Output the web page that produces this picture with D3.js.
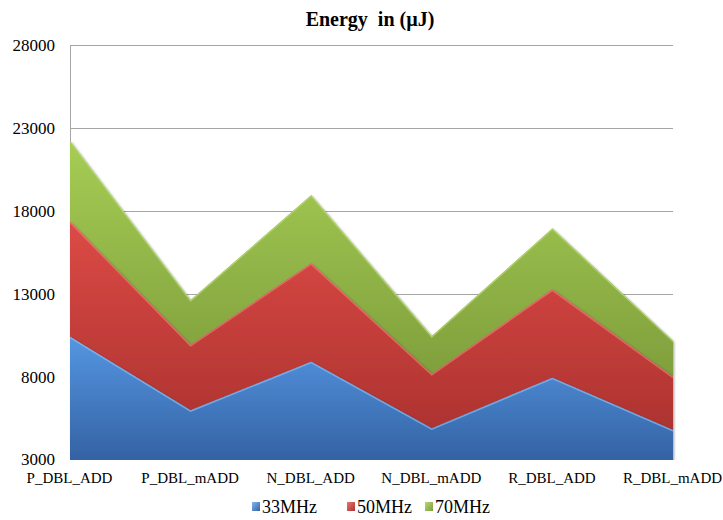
<!DOCTYPE html>
<html>
<head>
<meta charset="utf-8">
<script src="https://cdn.jsdelivr.net/npm/d3@7"></script>
<style>
  html, body { margin: 0; padding: 0; background: #fff; }
  svg { display: block; }
  svg text { font-family: "Liberation Serif", "Times New Roman", serif; }
</style>
</head>
<body>
<svg id="chart" width="723" height="520"></svg>
<script>
// Categories and per-frequency energy values (stacked)
const categories = ["P_DBL_ADD", "P_DBL_mADD", "N_DBL_ADD", "N_DBL_mADD", "R_DBL_ADD", "R_DBL_mADD"];
const seriesNames = ["33MHz", "50MHz", "70MHz"];
const mhz33 = [10430, 6000, 8920, 4910, 7960, 4810];
const mhz50 = [6930, 3930, 5930, 3270, 5320, 3210];
const mhz70 = [4880, 2710, 4110, 2290, 3680, 2170];
const yTicks = [3000, 8000, 13000, 18000, 23000, 28000];

const FONT = "Liberation Serif, Times New Roman, serif";
const svg = d3.select("#chart");
const margin = { left: 70, right: 50, top: 45, bottom: 60 };
const W = 723, H = 520;
const x0 = margin.left, x1 = W - margin.right;
const yTop = margin.top, yBot = H - margin.bottom;

const rows = categories.map((c, i) => ({ cat: c, "33MHz": mhz33[i], "50MHz": mhz50[i], "70MHz": mhz70[i] }));
const stacked = d3.stack().keys(seriesNames)(rows);

const x = d3.scalePoint().domain(categories).range([x0, x1]);
const y = d3.scaleLinear().domain([3000, 28000]).range([yBot, yTop]);

const palettes = {
  "33MHz": { top: "#5596e2", bottom: "#3462a3", edge: "#7fb6f0" },
  "50MHz": { top: "#dc4a45", bottom: "#ad3330", edge: "#ea7570" },
  "70MHz": { top: "#a6cd55", bottom: "#7f9f3c", edge: "#b7d774" }
};

const defs = svg.append("defs");
seriesNames.forEach((k, i) => {
  const g = defs.append("linearGradient")
    .attr("id", "grad" + i).attr("x1", 0).attr("y1", 0).attr("x2", 0).attr("y2", 1);
  g.append("stop").attr("offset", "0%").attr("stop-color", palettes[k].top);
  g.append("stop").attr("offset", "100%").attr("stop-color", palettes[k].bottom);
  const lg = defs.append("linearGradient")
    .attr("id", "lgrad" + i).attr("x1", 0).attr("y1", 0).attr("x2", 1).attr("y2", 1);
  lg.append("stop").attr("offset", "0%").attr("stop-color", palettes[k].edge);
  lg.append("stop").attr("offset", "100%").attr("stop-color", palettes[k].bottom);
});
const f = defs.append("filter").attr("id", "shadow")
  .attr("x", "-5%").attr("y", "-5%").attr("width", "110%").attr("height", "115%");
f.append("feDropShadow").attr("dx", 1.2).attr("dy", 1.2).attr("stdDeviation", 1)
  .attr("flood-color", "#000").attr("flood-opacity", 0.35);

defs.append("clipPath").attr("id", "plotClip")
  .append("rect").attr("x", x0 - 1).attr("y", yTop - 10).attr("width", x1 - x0 + 6).attr("height", yBot - yTop + 10);

// Gridlines
svg.append("g").selectAll("line").data(yTicks.filter(t => t > 3000)).join("line")
  .attr("x1", x0).attr("x2", x1)
  .attr("y1", d => Math.round(y(d)) + 0.5).attr("y2", d => Math.round(y(d)) + 0.5)
  .attr("stroke", "#a6a6a6").attr("stroke-width", 1);

// Left axis line
svg.append("line").attr("x1", x0 + 0.5).attr("x2", x0 + 0.5)
  .attr("y1", yTop).attr("y2", yBot).attr("stroke", "#a6a6a6");

// Stacked areas
const area = d3.area()
  .x(d => x(d.data.cat))
  .y0(d => y(Math.max(d[0], 3000)))
  .y1(d => y(d[1]));
const topLine = d3.line().x(d => x(d.data.cat)).y(d => y(d[1]));

const plot = svg.append("g").attr("clip-path", "url(#plotClip)");
stacked.slice().reverse().forEach(s => {
  plot.append("path").datum(s).attr("d", area)
    .attr("fill", `url(#grad${s.index})`).attr("filter", "url(#shadow)");
});
stacked.forEach(s => {
  plot.append("path").datum(s).attr("d", topLine)
    .attr("fill", "none").attr("stroke", palettes[s.key].edge)
    .attr("stroke-width", 1.3).attr("opacity", 0.8)
    .attr("transform", "translate(0,1)");
});

// Y tick labels
svg.append("g").selectAll("text").data(yTicks).join("text")
  .attr("font-family", FONT)
  .attr("x", 55).attr("y", d => y(d) + (d === 3000 ? 5 : 6))
  .attr("text-anchor", "end")
  .attr("font-size", 17).attr("fill", "#000")
  .text(d => d);

// X category labels
svg.append("g").selectAll("text").data(categories).join("text")
  .attr("font-family", FONT)
  .attr("x", d => x(d) - 0.5).attr("y", 483)
  .attr("text-anchor", "middle").attr("font-size", 15).attr("fill", "#000")
  .text(d => d);

// Title
svg.append("text").attr("x", 370).attr("y", 26)
  .attr("font-family", FONT)
  .attr("text-anchor", "middle").attr("font-size", 20).attr("font-weight", "bold")
  .attr("xml:space", "preserve")
  .text("Energy  in (\u00b5J)");

// Legend
const legendItems = [
  { key: "33MHz", x: 252 },
  { key: "50MHz", x: 347 },
  { key: "70MHz", x: 425 }
];
legendItems.forEach((it, i) => {
  svg.append("rect").attr("x", it.x).attr("y", 502).attr("width", 8).attr("height", 9)
    .attr("fill", `url(#lgrad${i})`);
  svg.append("text").attr("x", it.x + 10).attr("y", 513)
    .attr("font-family", FONT)
    .attr("font-size", 18).attr("fill", "#000").text(it.key);
});
</script>
</body>
</html>
